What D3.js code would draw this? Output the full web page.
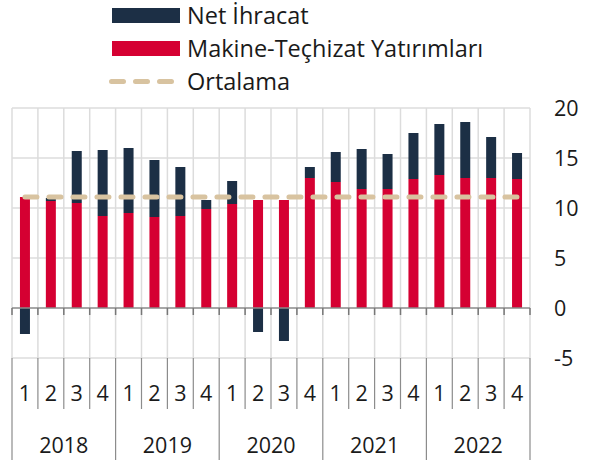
<!DOCTYPE html>
<html>
<head>
<meta charset="utf-8">
<script src="https://cdn.jsdelivr.net/npm/d3@7"></script>
<style>
  body { margin: 0; background: #fff; }
  text { font-family: "Open Sans", sans-serif; fill: #1a1a1a; }
</style>
</head>
<body>
<div id="chart"></div>
<script>
var years = ['2018', '2019', '2020', '2021', '2022'];
var quarters = ['1', '2', '3', '4'];
var makine = [11.1, 10.7, 10.5, 9.2, 9.5, 9.1, 9.2, 9.9, 10.4, 10.8, 10.8, 13.0,
              12.6, 11.9, 11.9, 12.9, 13.3, 13.0, 13.0, 12.9];
var netIhracat = [-2.6, 0.3, 5.2, 6.6, 6.5, 5.7, 4.9, 0.9, 2.3, -2.4, -3.3, 1.1,
                  3.0, 4.0, 3.5, 4.6, 5.1, 5.6, 4.1, 2.6];
var ortalama = 11.1;
var yTicks = [-5, 0, 5, 10, 15, 20];

var ctx = {
    w: 595,
    h: 463,
    left: 12,
    right: 530,
    top: 108,
    bottom: 358,
    navy: '#1c2f45',
    red: '#d50032',
    tan: '#d8c3a0',
    grid: '#dcdcdc',
};

var rows = [];
years.forEach(function(y) {
    quarters.forEach(function(q) {
        rows.push({ key: y + '-' + q, year: y, q: q });
    });
});
rows.forEach(function(d, i) {
    d.makine = makine[i];
    d.net = netIhracat[i];
});

var svg = d3.select('#chart').append('svg')
    .attr('width', ctx.w)
    .attr('height', ctx.h);

var x = d3.scaleBand()
    .domain(rows.map(d => d.key))
    .range([ctx.left, ctx.right])
    .padding(0);

var y = d3.scaleLinear()
    .domain([-5, 20])
    .range([ctx.bottom, ctx.top]);

var barW = 10;

// grid
var grid = svg.append('g');
grid.selectAll('.hgrid')
    .data(yTicks.filter(d => d != 0))
    .enter()
    .append('line')
    .attr('x1', ctx.left)
    .attr('x2', ctx.right)
    .attr('y1', d => y(d))
    .attr('y2', d => y(d))
    .attr('stroke', ctx.grid)
    .attr('stroke-width', 1.5);

var bounds = rows.map(d => x(d.key)).concat([ctx.right]);
grid.selectAll('.vgrid')
    .data(bounds)
    .enter()
    .append('line')
    .attr('x1', d => d)
    .attr('x2', d => d)
    .attr('y1', ctx.top)
    .attr('y2', ctx.bottom)
    .attr('stroke', ctx.grid)
    .attr('stroke-width', 1.5);

// bars
var stack = d3.stack()
    .keys(['makine', 'net'])
    .offset(d3.stackOffsetDiverging);
var series = stack(rows);
var colors = { makine: ctx.red, net: ctx.navy };

svg.append('g')
    .selectAll('g')
    .data(series)
    .enter()
    .append('g')
    .attr('fill', d => colors[d.key])
    .selectAll('rect')
    .data(d => d)
    .enter()
    .append('rect')
    .attr('x', d => x(d.data.key) + (x.bandwidth() - barW) / 2)
    .attr('width', barW)
    .attr('y', d => y(Math.max(d[0], d[1])))
    .attr('height', d => Math.abs(y(d[0]) - y(d[1])));

// zero line and ticks
svg.append('line')
    .attr('x1', ctx.left)
    .attr('x2', ctx.right)
    .attr('y1', y(0))
    .attr('y2', y(0))
    .attr('stroke', '#8a8a8a')
    .attr('stroke-width', 1.5);

svg.append('g')
    .selectAll('line')
    .data(bounds)
    .enter()
    .append('line')
    .attr('x1', d => d)
    .attr('x2', d => d)
    .attr('y1', y(0))
    .attr('y2', y(0) + 7)
    .attr('stroke', '#777')
    .attr('stroke-width', 1.5);

// average
var first = rows[0].key, last = rows[rows.length - 1].key;
svg.append('line')
    .attr('x1', x(first) + x.bandwidth() / 2)
    .attr('x2', x(last) + x.bandwidth() / 2)
    .attr('y1', y(ortalama))
    .attr('y2', y(ortalama))
    .attr('stroke', ctx.tan)
    .attr('stroke-width', 5)
    .attr('stroke-linecap', 'round')
    .attr('stroke-dasharray', '12,12');

// right axis labels
svg.append('g')
    .selectAll('text')
    .data(yTicks)
    .enter()
    .append('text')
    .attr('x', 554)
    .attr('y', d => y(d))
    .attr('dy', '0.35em')
    .attr('font-size', '21.5px')
    .text(d => d);

// category axis
var cat = svg.append('g');
cat.selectAll('.qsep')
    .data(bounds)
    .enter()
    .append('line')
    .attr('x1', d => d)
    .attr('x2', d => d)
    .attr('y1', ctx.bottom)
    .attr('y2', (d, i) => i % 4 == 0 ? 460 : 409)
    .attr('stroke', '#8c8c8c')
    .attr('stroke-width', 1.2);

cat.selectAll('.qlab')
    .data(rows)
    .enter()
    .append('text')
    .attr('x', d => x(d.key) + x.bandwidth() / 2)
    .attr('y', 401)
    .attr('text-anchor', 'middle')
    .attr('font-size', '21.5px')
    .text(d => d.q);

cat.selectAll('.ylab')
    .data(years)
    .enter()
    .append('text')
    .attr('x', d => (x(d + '-1') + x(d + '-4') + x.bandwidth()) / 2)
    .attr('y', 453)
    .attr('text-anchor', 'middle')
    .attr('font-size', '21.5px')
    .text(d => d);

// legend
var legend = svg.append('g');
var legendItems = [
    { label: 'Net İhracat', color: ctx.navy, type: 'rect', y: 15.5 },
    { label: 'Makine-Teçhizat Yatırımları', color: ctx.red, type: 'rect', y: 48.5 },
    { label: 'Ortalama', color: ctx.tan, type: 'dash', y: 81.5 },
];
legendItems.forEach(function(d) {
    if (d.type == 'rect') {
        legend.append('rect')
            .attr('x', 112)
            .attr('y', d.y - 7.5)
            .attr('width', 68)
            .attr('height', 15)
            .attr('fill', d.color);
    } else {
        legend.append('line')
            .attr('x1', 111.5)
            .attr('x2', 172)
            .attr('y1', d.y)
            .attr('y2', d.y)
            .attr('stroke', d.color)
            .attr('stroke-width', 5)
            .attr('stroke-linecap', 'round')
            .attr('stroke-dasharray', '12,12');
    }
    legend.append('text')
        .attr('x', 187)
        .attr('y', d.y)
        .attr('dy', '0.35em')
        .attr('font-size', '23.5px')
        .text(d.label);
});
</script>
</body>
</html>
